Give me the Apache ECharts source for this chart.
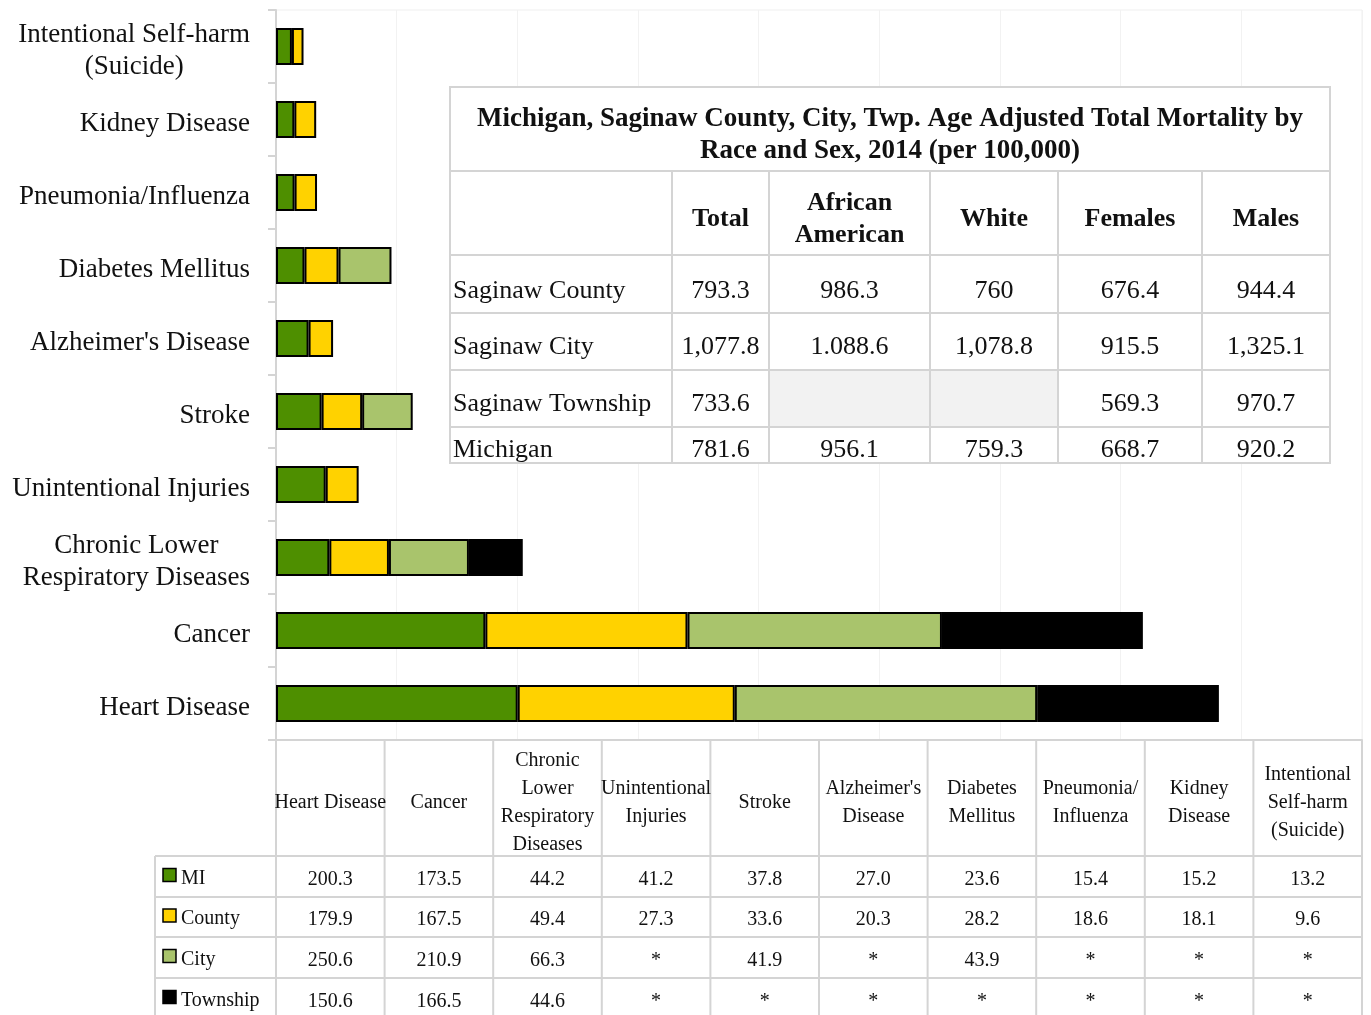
<!DOCTYPE html>
<html>
<head>
<meta charset="utf-8">
<script src="https://cdn.jsdelivr.net/npm/echarts@6/dist/echarts.min.js"></script>
<style>
  html, body { margin: 0; padding: 0; background: #fff; }
  #main { width: 1371px; height: 1015px; }
</style>
</head>
<body>
<div id="main"></div>
<script>
// ---- chart data (bottom to top in the bar chart) ----
const causes = ['Heart Disease', 'Cancer', 'Chronic Lower\nRespiratory Diseases', 'Unintentional Injuries', 'Stroke',
  "Alzheimer's Disease", 'Diabetes Mellitus', 'Pneumonia/Influenza', 'Kidney Disease', 'Intentional Self-harm\n(Suicide)']
const tableHeads = ['Heart Disease', 'Cancer', 'Chronic\nLower\nRespiratory\nDiseases', 'Unintentional\nInjuries', 'Stroke',
  "Alzheimer's\nDisease", 'Diabetes\nMellitus', 'Pneumonia/\nInfluenza', 'Kidney\nDisease', 'Intentional\nSelf-harm\n(Suicide)']
const seriesNames = ['MI', 'County', 'City', 'Township']
const miVals = [200.3, 173.5, 44.2, 41.2, 37.8, 27.0, 23.6, 15.4, 15.2, 13.2]
const countyVals = [179.9, 167.5, 49.4, 27.3, 33.6, 20.3, 28.2, 18.6, 18.1, 9.6]
const cityVals = [250.6, 210.9, 66.3, null, 41.9, null, 43.9, null, null, null]
const townshipVals = [150.6, 166.5, 44.6, null, null, null, null, null, null, null]
const seriesColors = ['#4e8f00', '#ffd200', '#a9c46c', '#000000']

// ---- inset table ----
const insetTitle = 'Michigan, Saginaw County, City, Twp. Age Adjusted Total Mortality by\nRace and Sex, 2014 (per 100,000)'
const insetCols = ['Total', 'African\nAmerican', 'White', 'Females', 'Males']
const insetRows = ['Saginaw County', 'Saginaw City', 'Saginaw Township', 'Michigan']
const totalVals = ['793.3', '1,077.8', '733.6', '781.6']
const africanAmericanVals = ['986.3', '1.088.6', null, '956.1']
const whiteVals = ['760', '1,078.8', null, '759.3']
const femaleVals = ['676.4', '915.5', '569.3', '668.7']
const maleVals = ['944.4', '1,325.1', '970.7', '920.2']

const FONT = '"Liberation Serif", "DejaVu Serif", serif'
const LINE = '#d4d4d4'

const gridLeft = 276, gridTop = 10, gridRight = 9, gridBottom = 275
const W = 1371, H = 1015
const gridW = W - gridLeft - gridRight
const tableTop = H - gridBottom

const chart = echarts.init(document.getElementById('main'))

const allVals = [miVals, countyVals, cityVals, townshipVals]
const fmt = v => v == null ? '*' : v.toFixed(1)

function dataTable() {
  const els = []
  const n = tableHeads.length
  const colW = gridW / n
  const rowY = [tableTop + 116, tableTop + 157, tableTop + 197, tableTop + 238, tableTop + 279]
  const legLeft = 155
  // horizontal lines
  rowY.slice(0, 4).forEach(y => {
    els.push({ type: 'line', shape: { x1: legLeft, y1: y, x2: gridLeft + gridW, y2: y }, style: { stroke: LINE, lineWidth: 2 } })
  })
  // vertical lines
  for (let i = 0; i <= n; i++) {
    const x = gridLeft + i * colW
    els.push({ type: 'line', shape: { x1: x, y1: tableTop, x2: x, y2: H }, style: { stroke: LINE, lineWidth: 2 } })
  }
  els.push({ type: 'line', shape: { x1: legLeft, y1: rowY[0], x2: legLeft, y2: H }, style: { stroke: LINE, lineWidth: 2 } })
  // headers
  tableHeads.forEach((t, i) => {
    els.push({ type: 'text', x: gridLeft + (i + 0.5) * colW, y: tableTop + 63,
      style: { text: t, align: 'center', verticalAlign: 'middle', fontSize: 20, fontFamily: FONT, lineHeight: 28, fill: '#111' } })
  })
  // rows
  seriesNames.forEach((name, r) => {
    const cy = (rowY[r] + rowY[r + 1]) / 2
    els.push({ type: 'rect', shape: { x: 163, y: cy - 8, width: 13, height: 13 },
      style: { fill: seriesColors[r], stroke: '#000', lineWidth: 1.5 } })
    els.push({ type: 'text', x: 181, y: cy + 2,
      style: { text: name, align: 'left', verticalAlign: 'middle', fontSize: 20, fontFamily: FONT, fill: '#111' } })
    allVals[r].forEach((v, i) => {
      els.push({ type: 'text', x: gridLeft + (i + 0.5) * colW, y: cy + 3,
        style: { text: fmt(v), align: 'center', verticalAlign: 'middle', fontSize: 20, fontFamily: FONT, fill: '#111' } })
    })
  })
  return els
}

function insetTable() {
  const els = []
  const x0 = 450, x1 = 1330, y0 = 87, y1 = 463
  const colX = [450, 672, 769, 930, 1058, 1202, 1330]
  const rowY = [87, 171, 255, 313, 370, 427, 463]
  const z = 50
  els.push({ type: 'rect', z, shape: { x: x0, y: y0, width: x1 - x0, height: y1 - y0 }, style: { fill: '#fff', stroke: LINE, lineWidth: 2 } })
  // gray empty cells
  const cols = [totalVals, africanAmericanVals, whiteVals, femaleVals, maleVals]
  cols.forEach((vals, c) => {
    vals.forEach((v, r) => {
      if (v == null) {
        els.push({ type: 'rect', z, shape: { x: colX[c + 1], y: rowY[r + 2], width: colX[c + 2] - colX[c + 1], height: rowY[r + 3] - rowY[r + 2] },
          style: { fill: '#f2f2f2' } })
      }
    })
  })
  rowY.slice(1, 6).forEach(y => {
    els.push({ type: 'line', z, shape: { x1: x0, y1: y, x2: x1, y2: y }, style: { stroke: LINE, lineWidth: 2 } })
  })
  colX.slice(1, 6).forEach(x => {
    els.push({ type: 'line', z, shape: { x1: x, y1: rowY[1], x2: x, y2: y1 }, style: { stroke: LINE, lineWidth: 2 } })
  })
  els.push({ type: 'text', z, x: (x0 + x1) / 2, y: 135,
    style: { text: insetTitle, align: 'center', verticalAlign: 'middle', fontSize: 27, fontWeight: 'bold', fontFamily: FONT, lineHeight: 32, fill: '#111' } })
  insetCols.forEach((t, c) => {
    els.push({ type: 'text', z, x: (colX[c + 1] + colX[c + 2]) / 2, y: 219,
      style: { text: t, align: 'center', verticalAlign: 'middle', fontSize: 26, fontWeight: 'bold', fontFamily: FONT, lineHeight: 32, fill: '#111' } })
  })
  const textY = [291, 347, 404, 450]
  insetRows.forEach((name, r) => {
    els.push({ type: 'text', z, x: 453, y: textY[r],
      style: { text: name, align: 'left', verticalAlign: 'middle', fontSize: 26, fontFamily: FONT, fill: '#111' } })
    cols.forEach((vals, c) => {
      if (vals[r] == null) return
      els.push({ type: 'text', z, x: (colX[c + 1] + colX[c + 2]) / 2, y: textY[r],
        style: { text: vals[r], align: 'center', verticalAlign: 'middle', fontSize: 26, fontFamily: FONT, fill: '#111' } })
    })
  })
  return els
}

chart.setOption({
  animation: false,
  grid: {
    left: gridLeft, top: gridTop, right: gridRight, bottom: gridBottom,
    show: true, borderColor: '#efefef', borderWidth: 1
  },
  xAxis: {
    type: 'value', min: 0, max: 900, interval: 100,
    axisLabel: { show: false },
    axisTick: { show: false },
    axisLine: { show: true, lineStyle: { color: LINE, width: 2 } },
    splitLine: { lineStyle: { color: '#f2f2f2' } }
  },
  yAxis: {
    type: 'category',
    data: causes,
    axisLine: { show: true, lineStyle: { color: LINE, width: 2 } },
    axisTick: { show: true, length: 8, lineStyle: { color: LINE, width: 2 } },
    axisLabel: {
      margin: 26,
      color: '#111',
      padding: [8, 0, 0, 0],
      formatter: v => v.split('\n').map(s => '{c|' + s + '}').join('\n'),
      rich: { c: { align: 'center', fontSize: 27, fontFamily: FONT, lineHeight: 32, color: '#111' } }
    }
  },
  series: seriesNames.map((name, i) => ({
    name,
    type: 'bar',
    stack: 'total',
    barWidth: 37,
    data: allVals[i],
    itemStyle: { color: seriesColors[i], borderColor: '#000', borderWidth: 2 }
  })),
  graphic: dataTable().concat(insetTable())
})
</script>
</body>
</html>
